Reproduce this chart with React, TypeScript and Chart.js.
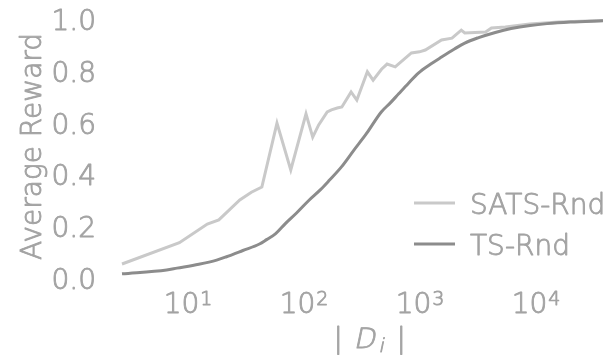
import React, { useEffect, useRef } from "react";
import { Chart, registerables } from "chart.js";

Chart.register(...registerables);

// ---- data ----
const SATS_X = [2.72, 8.5, 14.8, 18.6, 28.2, 35.5, 43.7, 59, 77.6, 105, 120, 135, 160, 174, 195, 214, 257, 288, 355, 398, 470, 525, 617, 851, 1000, 1122, 1549, 1905, 2291, 2455, 3715, 4169, 5495, 8913, 15849, 38200];
const SATS_Y = [0.058, 0.14, 0.212, 0.228, 0.305, 0.335, 0.355, 0.602, 0.421, 0.638, 0.548, 0.595, 0.645, 0.653, 0.66, 0.664, 0.722, 0.691, 0.8, 0.768, 0.81, 0.83, 0.819, 0.873, 0.877, 0.884, 0.923, 0.93, 0.961, 0.95, 0.954, 0.969, 0.973, 0.985, 0.992, 0.998];

const TS_X = [2.72, 6.6, 8.1, 12.5, 17.8, 21.4, 30, 41.7, 48, 57.5, 70, 87, 112, 140, 166, 214, 269, 347, 468, 560, 661, 800, 977, 1250, 1549, 2000, 2455, 3236, 4500, 6166, 9000, 12589, 20000, 38200];
const TS_Y = [0.02, 0.035, 0.042, 0.057, 0.073, 0.085, 0.11, 0.135, 0.152, 0.175, 0.215, 0.255, 0.305, 0.345, 0.38, 0.435, 0.495, 0.56, 0.645, 0.68, 0.715, 0.755, 0.795, 0.83, 0.857, 0.888, 0.911, 0.932, 0.952, 0.967, 0.979, 0.986, 0.992, 0.997];

const SERIES_LABELS = ["SATS-Rnd", "TS-Rnd"];
const X_TICKS = [10, 100, 1000, 10000];
const Y_TICKS = [0, 0.2, 0.4, 0.6, 0.8, 1.0];
const X_MIN = 2.72;
const X_MAX = 38200;
const Y_TITLE = "Average Reward";

const FONT = '"DejaVu Sans"';
const W = "200";
const TEXT_COLOR = "#a3a3a3";
const SATS_COLOR = "#c9c9c9";
const TS_COLOR = "#8c8c8c";

function txt(ctx: any, s: string, x: number, y: number) {
  ctx.fillText(s, x, y);
  ctx.strokeText(s, x, y);
}

function italicTxt(ctx: any, s: string, x: number, y: number) {
  ctx.save();
  ctx.translate(x, y);
  ctx.transform(1, 0, -0.21, 1, 0, 0);
  txt(ctx, s, 0, 0);
  ctx.restore();
}

const textPlugin = {
  id: "customText",
  afterDraw(chart: any) {
    const ctx = chart.ctx;
    const xs = chart.scales.x;
    const ys = chart.scales.y;
    const area = chart.chartArea;
    ctx.save();
    ctx.fillStyle = TEXT_COLOR;
    ctx.strokeStyle = TEXT_COLOR;
    ctx.lineWidth = 0.9;
    ctx.lineJoin = "round";
    ctx.textAlign = "left";
    ctx.textBaseline = "alphabetic";
    // y tick labels
    ctx.font = `${W} 28px ${FONT}`;
    ctx.textAlign = "right";
    for (const t of ys.ticks) {
      const py = ys.getPixelForValue(t.value);
      txt(ctx, Number(t.value).toFixed(1), area.left - 26, py + 10);
    }
    // y title
    ctx.save();
    ctx.translate(41, (area.top + area.bottom) / 2 - 3);
    ctx.rotate(-Math.PI / 2);
    ctx.textAlign = "center";
    txt(ctx, Y_TITLE, 0, 0);
    ctx.restore();
    ctx.textAlign = "left";
    // x tick labels 10^n
    const base = area.bottom + 34;
    for (const t of xs.ticks) {
      const px = xs.getPixelForValue(t.value);
      const exp = String(Math.round(Math.log10(t.value)));
      ctx.font = `${W} 28px ${FONT}`;
      const wb = ctx.measureText("10").width;
      ctx.font = `${W} 19px ${FONT}`;
      const ws = ctx.measureText(exp).width;
      const x0 = px - (wb + ws) / 2;
      ctx.font = `${W} 28px ${FONT}`;
      txt(ctx, "10", x0, base);
      ctx.font = `${W} 19px ${FONT}`;
      txt(ctx, exp, x0 + wb + 1, base - 8);
    }
    // x title | D_i |
    const cx = (area.left + area.right) / 2 + 7;
    const tb = area.bottom + 69;
    ctx.font = `${W} 28px ${FONT}`;
    txt(ctx, "|", cx - 36, tb);
    italicTxt(ctx, "D", cx - 16, tb);
    ctx.font = `${W} 19px ${FONT}`;
    italicTxt(ctx, "i", cx + 9, tb + 4);
    ctx.font = `${W} 28px ${FONT}`;
    txt(ctx, "|", cx + 27, tb);
    // legend
    chart.data.datasets.forEach((ds: any, i: number) => {
      const y = area.top + 183 + i * 41;
      ctx.strokeStyle = ds.borderColor;
      ctx.lineWidth = ds.borderWidth;
      ctx.beginPath();
      ctx.moveTo(414, y);
      ctx.lineTo(455, y);
      ctx.stroke();
      ctx.strokeStyle = TEXT_COLOR;
      ctx.lineWidth = 0.9;
      ctx.font = `${W} 28px ${FONT}`;
      txt(ctx, ds.label, 470, y + 11);
    });
    ctx.restore();
  },
};

export default function App() {
  const ref = useRef<HTMLCanvasElement | null>(null);
  useEffect(() => {
    if (!ref.current) return;
    const chart = new Chart(ref.current, {
      type: "line",
      data: {
        datasets: [
          {
            label: SERIES_LABELS[0],
            data: SATS_X.map((x, i) => ({ x, y: SATS_Y[i] })),
            borderColor: SATS_COLOR,
            borderWidth: 3,
            pointRadius: 0,
            tension: 0,
            clip: false,
            order: 2,
          },
          {
            label: SERIES_LABELS[1],
            data: TS_X.map((x, i) => ({ x, y: TS_Y[i] })),
            borderColor: TS_COLOR,
            borderWidth: 3,
            pointRadius: 0,
            cubicInterpolationMode: "monotone",
            clip: false,
            order: 1,
          },
        ],
      },
      options: {
        animation: false,
        responsive: false,
        devicePixelRatio: 1,
        layout: { padding: { left: 122, right: 0, top: 20, bottom: 80 } },
        plugins: { legend: { display: false }, tooltip: { enabled: false } },
        scales: {
          x: {
            type: "logarithmic",
            display: false,
            min: X_MIN,
            max: X_MAX,
            afterBuildTicks: (s: any) => {
              s.ticks = X_TICKS.map((v) => ({ value: v }));
            },
          },
          y: {
            type: "linear",
            display: false,
            min: 0,
            max: 1,
            afterBuildTicks: (s: any) => {
              s.ticks = Y_TICKS.map((v) => ({ value: v }));
            },
          },
        },
      },
      plugins: [textPlugin],
    });
    return () => chart.destroy();
  }, []);
  return (
    <div style={{ position: "absolute", left: 0, top: 0, width: 603, height: 359, background: "#fff" }}>
      <canvas ref={ref} width={603} height={359} />
    </div>
  );
}
